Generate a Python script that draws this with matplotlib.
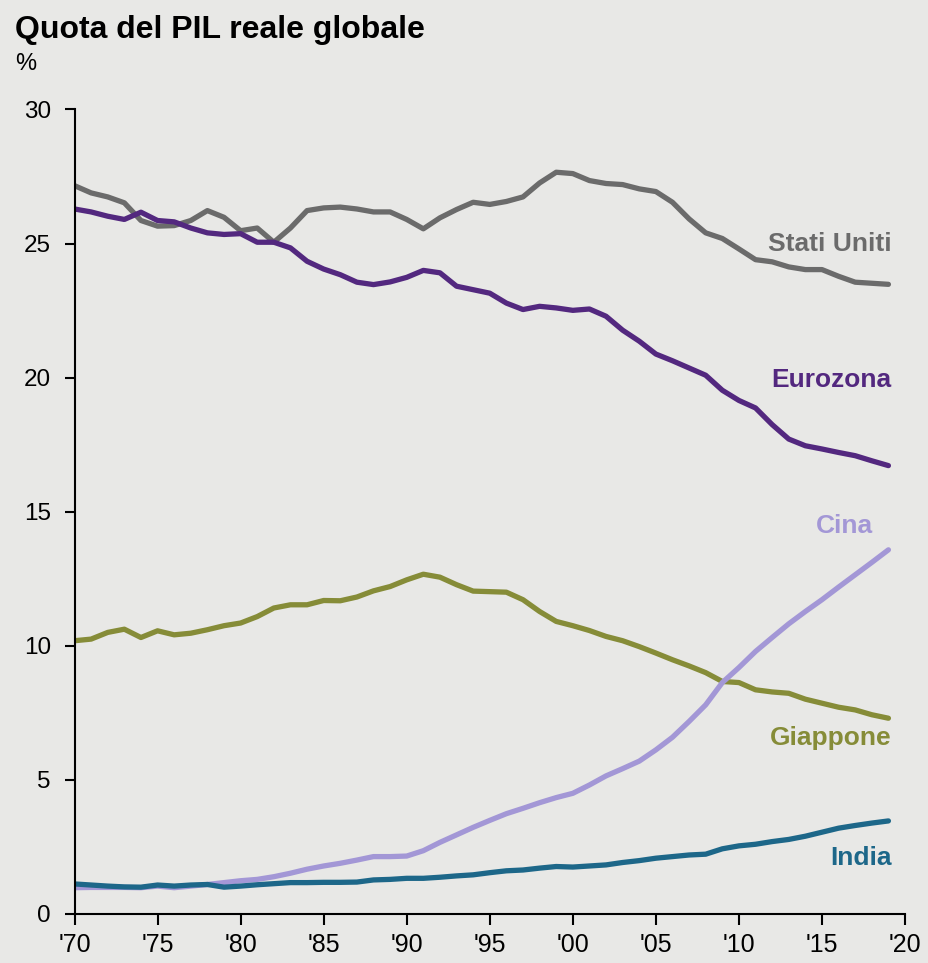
import matplotlib.pyplot as plt
import numpy as np

plt.rcParams['font.family'] = ['Liberation Sans', 'DejaVu Sans']

# Years 1970-2019
years = np.arange(1970, 2020)

stati_uniti = [27.16, 26.89, 26.74, 26.52, 25.86, 25.65, 25.67, 25.86, 26.23, 25.98,
               25.48, 25.58, 25.05, 25.58, 26.23, 26.33, 26.36, 26.29, 26.18, 26.18,
               25.90, 25.55, 25.96, 26.27, 26.54, 26.46, 26.57, 26.74, 27.26, 27.66,
               27.61, 27.35, 27.24, 27.20, 27.04, 26.94, 26.54, 25.92, 25.40, 25.19,
               24.80, 24.40, 24.32, 24.13, 24.03, 24.03, 23.78, 23.56, 23.52, 23.48]
eurozona = [26.29, 26.18, 26.02, 25.90, 26.17, 25.86, 25.81, 25.58, 25.40, 25.34,
            25.37, 25.05, 25.05, 24.84, 24.34, 24.05, 23.84, 23.56, 23.47, 23.57,
            23.74, 24.00, 23.91, 23.41, 23.28, 23.15, 22.78, 22.54, 22.66, 22.60,
            22.51, 22.56, 22.29, 21.77, 21.36, 20.88, 20.63, 20.36, 20.09, 19.53,
            19.15, 18.87, 18.25, 17.71, 17.46, 17.34, 17.21, 17.09, 16.90, 16.72]
giappone = [10.19, 10.25, 10.50, 10.62, 10.31, 10.56, 10.41, 10.47, 10.60, 10.75,
            10.85, 11.09, 11.41, 11.53, 11.53, 11.69, 11.68, 11.82, 12.05, 12.21,
            12.46, 12.67, 12.56, 12.28, 12.04, 12.02, 12.00, 11.72, 11.28, 10.91,
            10.75, 10.57, 10.35, 10.19, 9.97, 9.73, 9.48, 9.25, 9.00, 8.67,
            8.63, 8.36, 8.28, 8.23, 8.01, 7.86, 7.71, 7.61, 7.43, 7.30]
cina = [0.98, 0.99, 0.99, 0.99, 0.98, 1.04, 0.98, 1.04, 1.10, 1.17,
        1.24, 1.29, 1.39, 1.52, 1.67, 1.79, 1.89, 2.01, 2.14, 2.14,
        2.16, 2.36, 2.67, 2.95, 3.23, 3.49, 3.74, 3.94, 4.15, 4.34,
        4.50, 4.81, 5.15, 5.42, 5.70, 6.12, 6.59, 7.18, 7.80, 8.63,
        9.19, 9.79, 10.31, 10.82, 11.28, 11.72, 12.19, 12.65, 13.11, 13.58]
india = [1.12, 1.08, 1.04, 1.01, 1.00, 1.08, 1.04, 1.08, 1.10, 1.00,
         1.04, 1.09, 1.13, 1.17, 1.17, 1.18, 1.18, 1.19, 1.27, 1.29,
         1.33, 1.33, 1.37, 1.42, 1.46, 1.54, 1.61, 1.64, 1.71, 1.77,
         1.75, 1.79, 1.83, 1.92, 1.99, 2.08, 2.14, 2.20, 2.23, 2.43,
         2.54, 2.60, 2.70, 2.78, 2.90, 3.05, 3.20, 3.30, 3.39, 3.47]

series = [
    ("Stati Uniti", stati_uniti, "#6b6b6b"),
    ("Eurozona", eurozona, "#53287f"),
    ("Giappone", giappone, "#868c38"),
    ("Cina", cina, "#a397d6"),
    ("India", india, "#1d6789"),
]

# label positions (x, y in data units) and alignment
label_pos = {
    "Stati Uniti": (2019.2, 25.0, "right"),
    "Eurozona": (2019.2, 19.9, "right"),
    "Cina": (2018.1, 14.45, "right"),
    "Giappone": (2019.2, 6.55, "right"),
    "India": (2019.2, 2.1, "right"),
}

bg = "#e8e8e6"
fig = plt.figure(figsize=(9.29, 9.63), dpi=100, facecolor=bg)
ax = fig.add_axes([0.0802, 0.0509, 0.8940, 0.8354], facecolor=bg)

for name, vals, col in series:
    ax.plot(years, vals, color=col, lw=3.8, solid_capstyle='round',
            solid_joinstyle='round')
    lx, ly, ha = label_pos[name]
    ax.text(lx, ly, name, color=col, fontsize=19, fontweight='bold',
            ha=ha, va='center')

ax.set_xlim(1970, 2020)
ax.set_ylim(0, 30)
ax.set_xticks(np.arange(1970, 2021, 5))
ax.set_xticklabels(["'%02d" % (y % 100) for y in range(1970, 2021, 5)])
ax.set_yticks(np.arange(0, 31, 5))

for s in ['top', 'right']:
    ax.spines[s].set_visible(False)
for s in ['left', 'bottom']:
    ax.spines[s].set_linewidth(1.5)
    ax.spines[s].set_color('black')

ax.tick_params(axis='y', direction='out', length=7, width=1.5, labelsize=17.5, pad=10)
ax.tick_params(axis='x', direction='out', length=8, width=1.5, labelsize=18, pad=6)

fig.text(0.016, 0.969, "Quota del PIL reale globale", fontsize=23,
         fontweight='bold', ha='left', va='center')
fig.text(0.016, 0.934, "%", fontsize=17, ha='left', va='center')

fig.savefig("out.png", dpi=100, facecolor=bg)
